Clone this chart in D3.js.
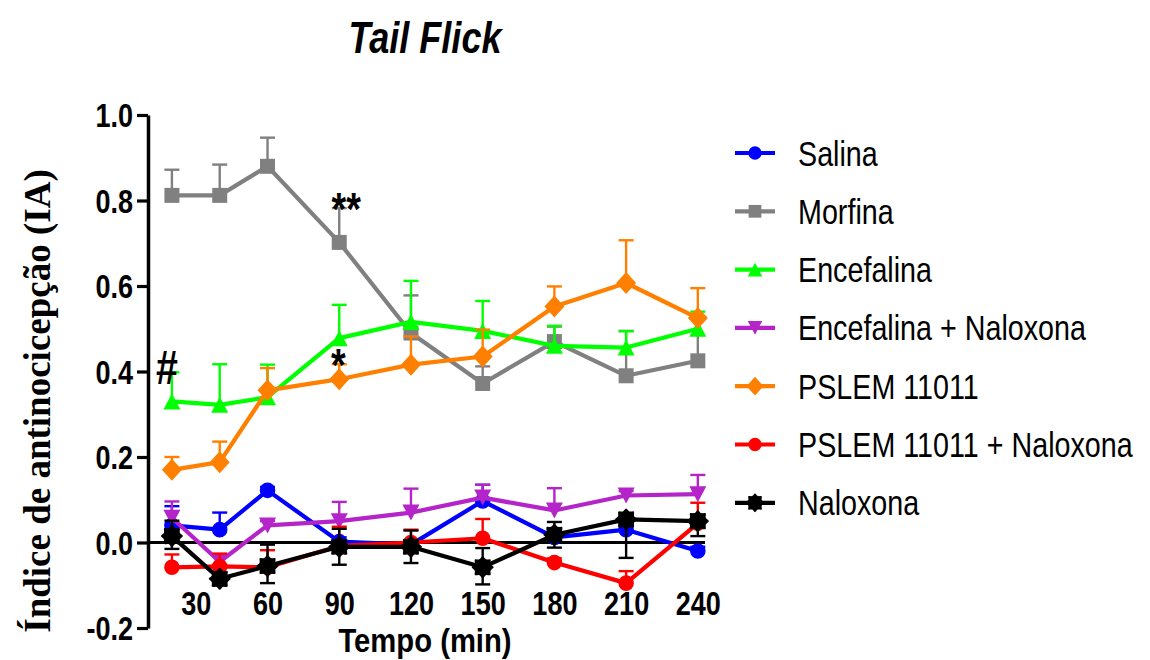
<!DOCTYPE html>
<html>
<head>
<meta charset="utf-8">
<script src="https://cdn.jsdelivr.net/npm/d3@7"></script>
<style>
  html, body { margin: 0; padding: 0; background: #fff; }
  svg { display: block; }
</style>
</head>
<body>
<svg id="chart" width="1150" height="660"></svg>
<script>
// Time points (min)
const times = [20, 40, 60, 90, 120, 150, 180, 210, 240];
const xTickValues = [30, 60, 90, 120, 150, 180, 210, 240];
const yTickValues = [-0.2, 0.0, 0.2, 0.4, 0.6, 0.8, 1.0];

// Group names
const groupNames = ["Salina", "Morfina", "Encefalina", "Encefalina + Naloxona",
  "PSLEM 11011", "PSLEM 11011 + Naloxona", "Naloxona"];

// Mean antinociception index per group
const salina      = [0.040, 0.030, 0.122, 0.002, -0.005, 0.097, 0.012, 0.030, -0.020];
const morfina     = [0.812, 0.812, 0.880, 0.702, 0.490, 0.372, 0.470, 0.390, 0.425];
const encefalina  = [0.330, 0.322, 0.340, 0.478, 0.516, 0.495, 0.460, 0.456, 0.500];
const encNaloxona = [0.058, -0.045, 0.040, 0.050, 0.070, 0.105, 0.075, 0.110, 0.113];
const pslem       = [0.170, 0.188, 0.356, 0.382, 0.416, 0.435, 0.552, 0.607, 0.525];
const pslemNalox  = [-0.058, -0.056, -0.058, -0.008, 0.000, 0.010, -0.047, -0.095, 0.045];
const naloxona    = [0.015, -0.085, -0.055, -0.010, -0.010, -0.058, 0.018, 0.054, 0.050];

// Standard errors (upper whisker)
const salinaErr      = [0.045, 0.040, 0.008, 0.010, 0.010, 0.038, 0.020, 0.012, 0.010];
const morfinaErr     = [0.060, 0.072, 0.067, 0.080, 0.088, 0.040, 0.035, 0.105, 0.100];
const encefalinaErr  = [0.068, 0.095, 0.076, 0.078, 0.096, 0.070, 0.047, 0.038, 0.040];
const encNaloxonaErr = [0.038, 0.015, 0.010, 0.045, 0.056, 0.030, 0.052, 0.010, 0.045];
const pslemErr       = [0.030, 0.048, 0.052, 0.035, 0.066, 0.063, 0.047, 0.100, 0.070];
const pslemNaloxErr  = [0.030, 0.030, 0.040, 0.045, 0.030, 0.045, 0.010, 0.028, 0.048];
// Naloxona whiskers are drawn both ways
const naloxonaErrUp   = [0.036, 0.015, 0.050, 0.042, 0.038, 0.045, 0.030, 0.000, 0.015];
const naloxonaErrDown = [0.030, 0.015, 0.040, 0.042, 0.038, 0.040, 0.030, 0.090, 0.035];

// Significance marks: [time, value, text]
const marks = [[20, 0.37, "#"], [90, 0.742, "**"], [90, 0.378, "*"]];

const colors = ["#0000ff", "#808080", "#00ff00", "#b424c8", "#ff8000", "#ff0000", "#000000"];
const shapes = ["circle", "square", "triangleUp", "triangleDown", "diamond", "circle", "blob"];
const means = [salina, morfina, encefalina, encNaloxona, pslem, pslemNalox, naloxona];
const errsUp = [salinaErr, morfinaErr, encefalinaErr, encNaloxonaErr, pslemErr, pslemNaloxErr, naloxonaErrUp];
const errsDown = [null, null, null, null, null, null, naloxonaErrDown];

const series = groupNames.map((name, i) => ({
  name, color: colors[i], shape: shapes[i],
  points: times.map((t, j) => ({
    t, v: means[i][j], up: errsUp[i][j], down: errsDown[i] ? errsDown[i][j] : 0
  }))
}));

const svg = d3.select("#chart");
const SANS = "'Liberation Sans', Arial, sans-serif";
const NARROW = 0.82;

const x = d3.scaleLinear().domain([10, 243]).range([148, 705]);
const y = d3.scaleLinear().domain([-0.2, 1.0]).range([628, 115]);

// Marker path generator
function markerPath(shape, s) {
  switch (shape) {
    case "circle": {
      const r = 7.8 * s;
      return `M${-r},0A${r},${r} 0 1,0 ${r},0A${r},${r} 0 1,0 ${-r},0Z`;
    }
    case "square": {
      const h = 7.5 * s;
      return `M${-h},${-h}H${h}V${h}H${-h}Z`;
    }
    case "triangleUp": {
      const w = 8.5 * s, h = 8 * s;
      return `M0,${-h}L${w},${h}L${-w},${h}Z`;
    }
    case "triangleDown": {
      const w = 8.5 * s, h = 8 * s;
      return `M0,${h}L${w},${-h}L${-w},${-h}Z`;
    }
    case "diamond": {
      const w = 10 * s, h = 11 * s;
      return `M0,${-h}L${w},0L0,${h}L${-w},0Z`;
    }
    case "blob": {
      const pts = d3.range(16).map(k => [k * Math.PI / 8, (k % 2 ? 8.6 : 11) * s]);
      return d3.lineRadial().curve(d3.curveCatmullRomClosed)(pts);
    }
  }
}

// Y axis
const fmt = d3.format(".1f");
const yAxis = svg.append("g")
  .attr("transform", `translate(${x(10)},0)`)
  .call(d3.axisLeft(y).tickValues(yTickValues).tickFormat(d => fmt(d).replace("\u2212", "-"))
    .tickSize(11).tickSizeOuter(0));
yAxis.select(".domain").attr("stroke", "#000").attr("stroke-width", 3.5);
yAxis.selectAll(".tick line").attr("stroke", "#000").attr("stroke-width", 3.2);
yAxis.selectAll(".tick text")
  .attr("font-family", SANS).attr("font-weight", "bold").attr("font-size", 33)
  .attr("fill", "#000")
  .attr("x", -15 / NARROW).attr("dy", "0.36em")
  .attr("transform", `scale(${NARROW},1)`);

// X axis labels (no axis line)
const xAxis = svg.append("g")
  .attr("transform", `translate(0,590)`)
  .call(d3.axisBottom(x).tickValues(xTickValues).tickSize(0).tickSizeOuter(0));
xAxis.select(".domain").remove();
xAxis.selectAll(".tick text")
  .attr("font-family", SANS).attr("font-weight", "bold").attr("font-size", 33)
  .attr("fill", "#000")
  .attr("y", 25).attr("dy", 0)
  .attr("transform", `scale(${NARROW},1)`);

// Zero reference line
svg.append("line")
  .attr("x1", x(10)).attr("x2", x(243))
  .attr("y1", y(0)).attr("y2", y(0))
  .attr("stroke", "#000").attr("stroke-width", 3.2);

// Series: error bars, lines, markers
const line = d3.line().x(d => x(d.t)).y(d => y(d.v));
const capW = 7.5;

series.forEach(s => {
  const g = svg.append("g");
  const eb = g.append("g").attr("stroke", s.color).attr("stroke-width", 2.4).attr("fill", "none");
  s.points.forEach(p => {
    const cx = x(p.t);
    if (p.up > 0) {
      eb.append("line").attr("x1", cx).attr("x2", cx).attr("y1", y(p.v)).attr("y2", y(p.v + p.up));
      eb.append("line").attr("x1", cx - capW).attr("x2", cx + capW).attr("y1", y(p.v + p.up)).attr("y2", y(p.v + p.up));
    }
    if (p.down > 0) {
      eb.append("line").attr("x1", cx).attr("x2", cx).attr("y1", y(p.v)).attr("y2", y(p.v - p.down));
      eb.append("line").attr("x1", cx - capW).attr("x2", cx + capW).attr("y1", y(p.v - p.down)).attr("y2", y(p.v - p.down));
    }
  });
  g.append("path").datum(s.points)
    .attr("d", line).attr("fill", "none")
    .attr("stroke", s.color).attr("stroke-width", 4.2).attr("stroke-linejoin", "round");
  g.selectAll("path.mk").data(s.points).join("path").attr("class", "mk")
    .attr("d", markerPath(s.shape, 1))
    .attr("transform", d => `translate(${x(d.t)},${y(d.v)})`)
    .attr("fill", s.color);
});

// Significance marks
marks.forEach(([t, v, txt]) => {
  svg.append("text")
    .attr("transform", `translate(${x(t) - (txt === "#" ? 5 : (txt === "**" ? -7 : 1))},${y(v)}) scale(${NARROW},1)`)
    .attr("text-anchor", "middle")
    .attr("font-family", SANS).attr("font-weight", "bold")
    .attr("font-size", txt === "#" ? 48 : 46)
    .attr("fill", "#000").text(txt);
});

// Title
svg.append("text")
  .attr("transform", `translate(425,53) scale(${NARROW},1)`)
  .attr("text-anchor", "middle")
  .attr("font-family", SANS).attr("font-weight", "bold").attr("font-style", "italic")
  .attr("font-size", 44).attr("fill", "#000").text("Tail Flick");

// X axis title
svg.append("text")
  .attr("transform", `translate(425,652) scale(0.86,1)`)
  .attr("text-anchor", "middle")
  .attr("font-family", SANS).attr("font-weight", "bold")
  .attr("font-size", 34).attr("fill", "#000").text("Tempo (min)");

// Y axis title
svg.append("text")
  .attr("transform", `translate(50,401) rotate(-90)`)
  .attr("text-anchor", "middle")
  .attr("font-family", "'Liberation Serif', 'Times New Roman', serif").attr("font-weight", "bold")
  .attr("font-size", 37).attr("fill", "#000").text("Índice de antinocicepção (IA)");

// Legend
const legend = svg.append("g");
series.forEach((s, i) => {
  const ly = 153 + i * 58.3;
  const row = legend.append("g").attr("transform", `translate(0,${ly})`);
  row.append("line").attr("x1", 735).attr("x2", 775).attr("y1", 0).attr("y2", 0)
    .attr("stroke", s.color).attr("stroke-width", 4.2);
  row.append("path").attr("d", markerPath(s.shape, 0.85))
    .attr("transform", "translate(755,0)").attr("fill", s.color);
  row.append("text")
    .attr("transform", `translate(798,12.5) scale(${NARROW},1)`)
    .attr("font-family", SANS).attr("font-size", 35).attr("fill", "#000")
    .text(s.name);
});
</script>
</body>
</html>
